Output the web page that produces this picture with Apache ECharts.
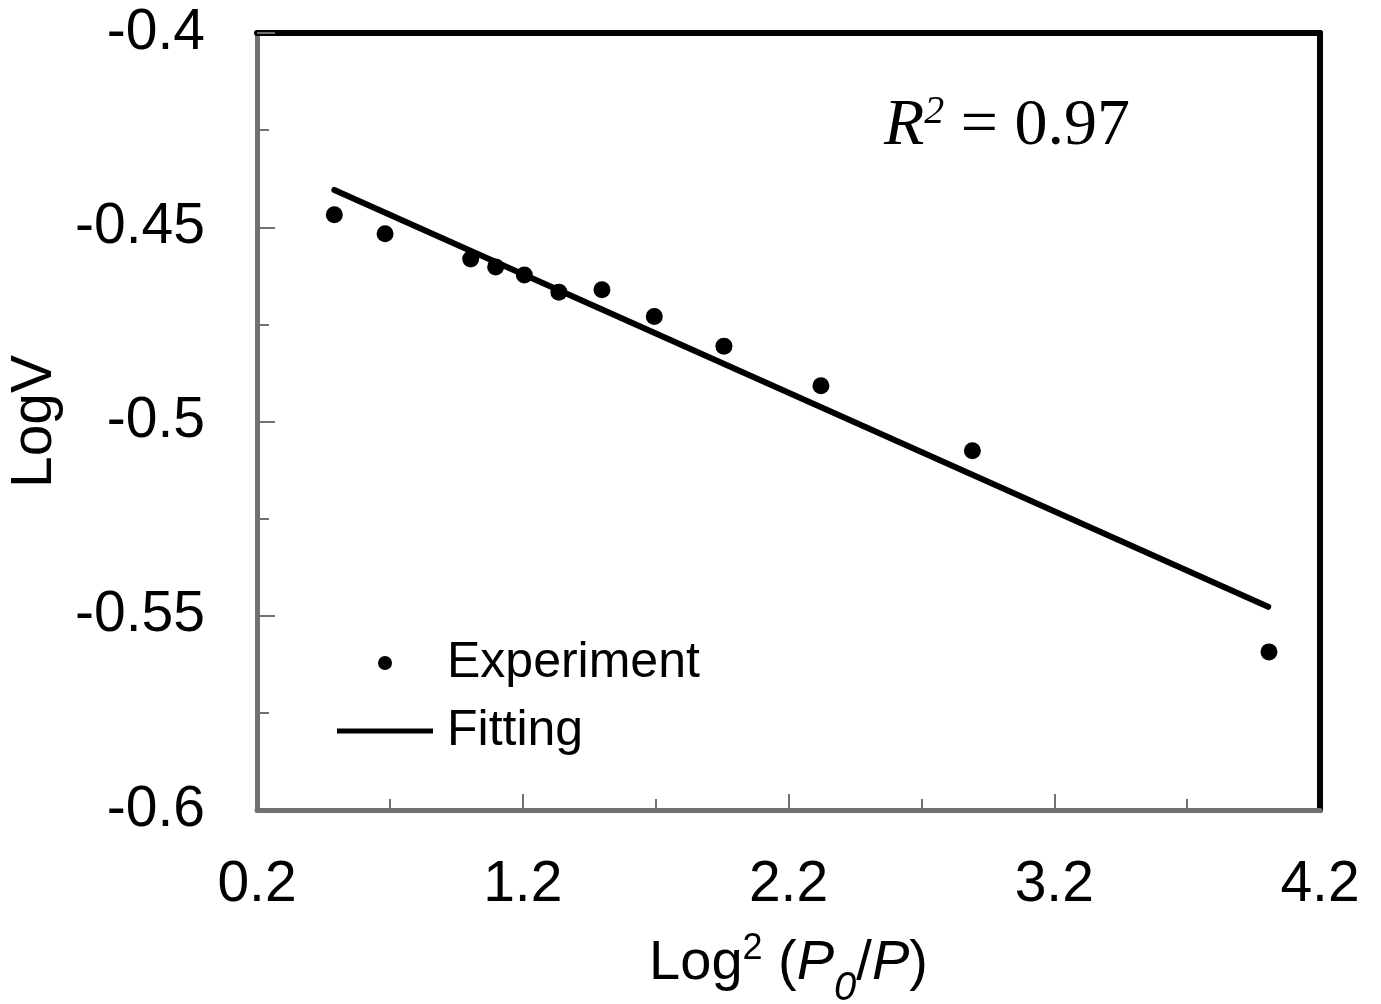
<!DOCTYPE html>
<html>
<head>
<meta charset="utf-8">
<script src="https://cdn.jsdelivr.net/npm/echarts@6/dist/echarts.min.js"></script>
<style>html,body{margin:0;padding:0;background:#fff}#c{width:1381px;height:1004px}</style>
</head>
<body>
<div id="c"></div>
<script>
// Experimental data: x = Log^2(P0/P), y = Log V
const expX = [0.491, 0.682, 1.004, 1.098, 1.206, 1.336, 1.498, 1.695, 1.957, 2.322, 2.892, 4.008];
const expY = [-0.4468, -0.4517, -0.4582, -0.4602, -0.4623, -0.4667, -0.4661, -0.4730, -0.4806, -0.4908, -0.5075, -0.5593];
// Fitting line endpoints
const fitX = [0.491, 4.005];
const fitY = [-0.4404, -0.5477];
// Tick labels
const xTickLabels = [0.2, 1.2, 2.2, 3.2, 4.2];
const xMinorTicks = [0.7, 1.7, 2.7, 3.7];
const xMajorTicks = [1.2, 2.2, 3.2];
const seriesNames = ['Experiment', 'Fitting'];
const rSquared = '0.97';

const SANS = '"Liberation Sans", Arial, sans-serif';
const SERIF = '"Liberation Serif", "Times New Roman", serif';
const AX_GRAY = '#717171';

const chart = echarts.init(document.getElementById('c'), null, {renderer: 'canvas'});
const option = {
  backgroundColor: '#fff',
  animation: false,
  grid: {left: 257, right: 61, top: 33, bottom: 194, containLabel: false, outerBoundsMode: 'none'},
  xAxis: [
    {
      type: 'value', min: 0.2, max: 4.2, position: 'bottom',
      axisLine: {show: true, onZero: false, lineStyle: {color: AX_GRAY, width: 5}},
      axisTick: {show: true, inside: true, length: 11, customValues: xMinorTicks, lineStyle: {color: AX_GRAY, width: 2}},
      axisLabel: {show: true, customValues: xTickLabels, margin: 47, fontSize: 57, fontFamily: SANS, color: '#000',
        formatter: v => v.toFixed(1)},
      splitLine: {show: false},
      name: '{a|Log}{sup|2}{a| (}{i|P}{sub|0}{a|/}{i|P}{a|)}',
      nameLocation: 'middle', nameGap: 106,
      nameTextStyle: {
        fontFamily: SANS, color: '#000', fontSize: 56,
        rich: {
          a: {fontFamily: SANS, fontSize: 56, color: '#000', lineHeight: 90},
          i: {fontFamily: SANS, fontSize: 56, fontStyle: 'italic', color: '#000', lineHeight: 90},
          sup: {fontFamily: SANS, fontSize: 36, color: '#000', lineHeight: 36, verticalAlign: 'top', padding: [12, 0, 0, 0]},
          sub: {fontFamily: SANS, fontSize: 40, fontStyle: 'italic', color: '#000', lineHeight: 40, verticalAlign: 'bottom'}
        }
      }
    },
    {
      type: 'value', min: 0.2, max: 4.2, position: 'bottom', offset: 0,
      axisLine: {show: false},
      axisTick: {show: true, inside: true, length: 16, customValues: xMajorTicks, lineStyle: {color: AX_GRAY, width: 2}},
      axisLabel: {show: false}, splitLine: {show: false}
    },
    {
      type: 'value', min: 0.2, max: 4.2, position: 'top',
      axisLine: {show: true, onZero: false, lineStyle: {color: '#000', width: 6}},
      axisTick: {show: false}, axisLabel: {show: false}, splitLine: {show: false}
    }
  ],
  yAxis: [
    {
      type: 'value', min: -0.6, max: -0.4, interval: 0.05, position: 'left',
      axisLine: {show: true, onZero: false, lineStyle: {color: AX_GRAY, width: 5}},
      axisTick: {show: true, inside: true, length: 18, lineStyle: {color: AX_GRAY, width: 2}},
      minorTick: {show: true, splitNumber: 2, length: 12, lineStyle: {color: AX_GRAY, width: 2}},
      axisLabel: {margin: 52, fontSize: 57, fontFamily: SANS, color: '#000'},
      splitLine: {show: false},
      name: 'LogV', nameLocation: 'middle', nameGap: 185, nameRotate: 90,
      nameTextStyle: {fontFamily: SANS, fontSize: 57, color: '#000'}
    },
    {
      type: 'value', min: -0.6, max: -0.4, position: 'right',
      axisLine: {show: true, onZero: false, lineStyle: {color: '#000', width: 6}},
      axisTick: {show: false}, axisLabel: {show: false}, splitLine: {show: false}
    }
  ],
  legend: [
    {
      data: [seriesNames[0]], orient: 'vertical', left: 378, top: 638, padding: 0,
      icon: 'circle', itemWidth: 14, itemHeight: 14, itemGap: 0,
      itemStyle: {color: '#000', opacity: 1},
      textStyle: {fontFamily: SANS, fontSize: 50, color: '#000', padding: [0, 0, 0, 50]}
    },
    {
      data: [seriesNames[1]], orient: 'vertical', left: 337, top: 706, padding: 0,
      icon: 'rect', itemWidth: 96, itemHeight: 5, itemGap: 0,
      itemStyle: {color: '#000'},
      textStyle: {fontFamily: SANS, fontSize: 50, color: '#000', padding: [0, 0, 0, 9]}
    }
  ],
  graphic: [
    {
      type: 'text', left: 884, top: 92, z: 100,
      style: {
        text: '{r|R}{s|2}{n| = ' + rSquared + '}',
        rich: {
          r: {fontFamily: SERIF, fontStyle: 'italic', fontSize: 66, fill: '#000', lineHeight: 70},
          s: {fontFamily: SERIF, fontStyle: 'italic', fontSize: 40, fill: '#000', lineHeight: 40, verticalAlign: 'top', padding: [0, 0, 8, 0]},
          n: {fontFamily: SERIF, fontSize: 66, fill: '#000', lineHeight: 70}
        }
      }
    }
  ],
  series: [
    {
      name: seriesNames[0], type: 'scatter', xAxisIndex: 0, yAxisIndex: 0,
      symbol: 'circle', symbolSize: 17, itemStyle: {color: '#000', opacity: 1},
      data: expX.map((x, i) => [x, expY[i]]), z: 3
    },
    {
      name: seriesNames[1], type: 'line', xAxisIndex: 0, yAxisIndex: 0,
      symbol: 'none', showSymbol: false, itemStyle: {color: '#000'},
      lineStyle: {color: '#000', width: 6, cap: 'round'},
      data: fitX.map((x, i) => [x, fitY[i]]), z: 2
    }
  ]
};
chart.setOption(option);
</script>
</body>
</html>
